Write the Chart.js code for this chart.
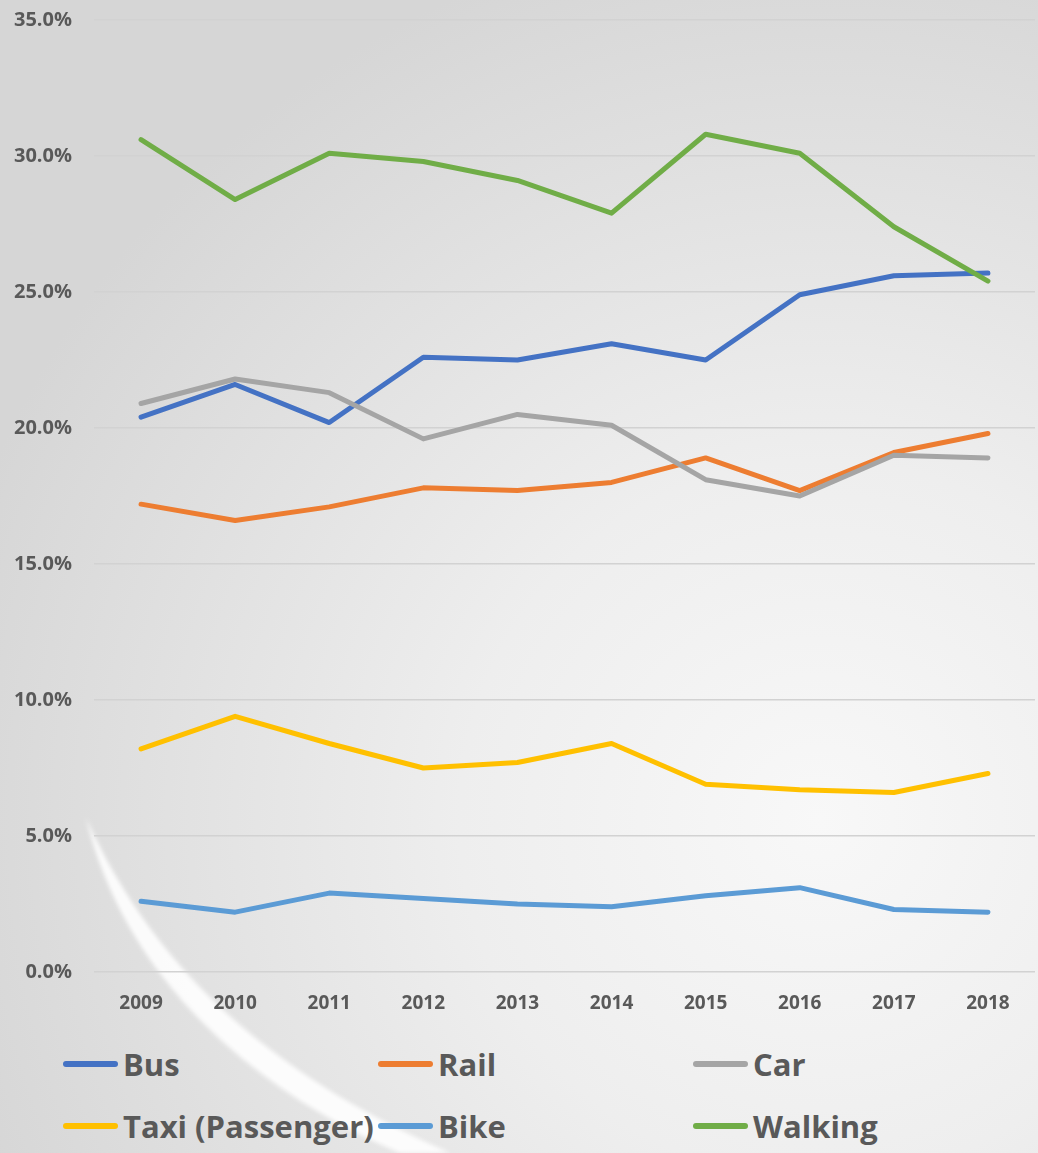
<!DOCTYPE html>
<html>
<head>
<meta charset="utf-8">
<script src="https://cdn.jsdelivr.net/npm/chart.js@4/dist/chart.umd.min.js"></script>
<style>
  html, body { margin: 0; padding: 0; }
  body {
    width: 1038px; height: 1153px; overflow: hidden; position: relative;
    background: radial-gradient(ellipse 900px 900px at 820px 820px, #f8f8f8 0%, #eeeeee 40%, #dedede 80%, #d6d6d6 100%);
    font-family: "Open Sans", Lato, sans-serif;
  }
  #swoosh { position: absolute; left: 0; top: 0; }
  #chart { position: absolute; left: 0; top: -14px; }
  .legend-item { position: absolute; display: flex; align-items: center; height: 40px; }
  .legend-line { width: 55px; height: 6px; border-radius: 3px; margin-right: 5px; }
  .legend-text { font-weight: bold; font-size: 31px; color: #595959; white-space: nowrap; }
</style>
</head>
<body>
<svg id="swoosh" width="1038" height="1153">
  <defs>
    <filter id="blur"><feGaussianBlur stdDeviation="2" /></filter>
  </defs>
  <path d="M86,818 C120,960 230,1080 400,1153 L450,1153 C260,1070 150,960 86,818 Z" fill="#ffffff" opacity="0.9" filter="url(#blur)" />
</svg>
<canvas id="chart" width="1038" height="1044"></canvas>
<div id="legend"></div>
<script>
var years = ["2009", "2010", "2011", "2012", "2013", "2014", "2015", "2016", "2017", "2018"]
var seriesNames = ["Bus", "Rail", "Car", "Taxi (Passenger)", "Bike", "Walking"]
var seriesColors = ["#4472C4", "#ED7D31", "#A5A5A5", "#FFC000", "#5B9BD5", "#70AD47"]

var bus = [20.4, 21.6, 20.2, 22.6, 22.5, 23.1, 22.5, 24.9, 25.6, 25.7]
var rail = [17.2, 16.6, 17.1, 17.8, 17.7, 18.0, 18.9, 17.7, 19.1, 19.8]
var car = [20.9, 21.8, 21.3, 19.6, 20.5, 20.1, 18.1, 17.5, 19.0, 18.9]
var taxi = [8.2, 9.4, 8.4, 7.5, 7.7, 8.4, 6.9, 6.7, 6.6, 7.3]
var bike = [2.6, 2.2, 2.9, 2.7, 2.5, 2.4, 2.8, 3.1, 2.3, 2.2]
var walking = [30.6, 28.4, 30.1, 29.8, 29.1, 27.9, 30.8, 30.1, 27.4, 25.4]

var seriesValues = [bus, rail, car, taxi, bike, walking]

var textColor = "#595959"

var datasets = seriesValues.map(function (vals, i) {
    return {
        label: seriesNames[i],
        data: vals,
        borderColor: seriesColors[i],
        backgroundColor: seriesColors[i],
        borderWidth: 5,
        borderCapStyle: "round",
        borderJoinStyle: "round",
        pointRadius: 0,
        tension: 0,
        fill: false,
        // later series on top, like the original
        order: seriesValues.length - i
    }
})

new Chart("chart", {
    type: "line",
    data: { labels: years, datasets: datasets },
    options: {
        responsive: false,
        animation: false,
        layout: { padding: { top: 5, right: 3, left: 0, bottom: 0 } },
        plugins: { legend: { display: false }, tooltip: { enabled: false } },
        scales: {
            x: {
                offset: true,
                grid: { display: false, drawTicks: false },
                border: { display: false },
                ticks: {
                    color: textColor,
                    padding: 20,
                    font: { family: "Open Sans", weight: "bold", size: 19 }
                },
                afterFit: function (scale) { scale.height = 58 }
            },
            y: {
                min: 0,
                max: 35,
                grid: { color: "#d2d2d2", lineWidth: 1.5, drawTicks: false },
                border: { display: false },
                ticks: {
                    stepSize: 5,
                    color: textColor,
                    padding: 22,
                    font: { family: "Open Sans", weight: "bold", size: 20 },
                    callback: function (v) { return v.toFixed(1) + "%" }
                },
                afterFit: function (scale) { scale.width = 94 }
            }
        }
    }
})

// legend in three columns, two rows
var legendX = [63, 378, 693]
var legendY = [1064, 1126]
var legend = document.getElementById("legend")
seriesNames.forEach(function (name, i) {
    var item = document.createElement("div")
    item.className = "legend-item"
    item.style.left = legendX[i % 3] + "px"
    item.style.top = (legendY[Math.floor(i / 3)] - 20) + "px"
    var line = document.createElement("div")
    line.className = "legend-line"
    line.style.background = seriesColors[i]
    var text = document.createElement("span")
    text.className = "legend-text"
    text.innerText = name
    item.appendChild(line)
    item.appendChild(text)
    legend.appendChild(item)
})
</script>
</body>
</html>
